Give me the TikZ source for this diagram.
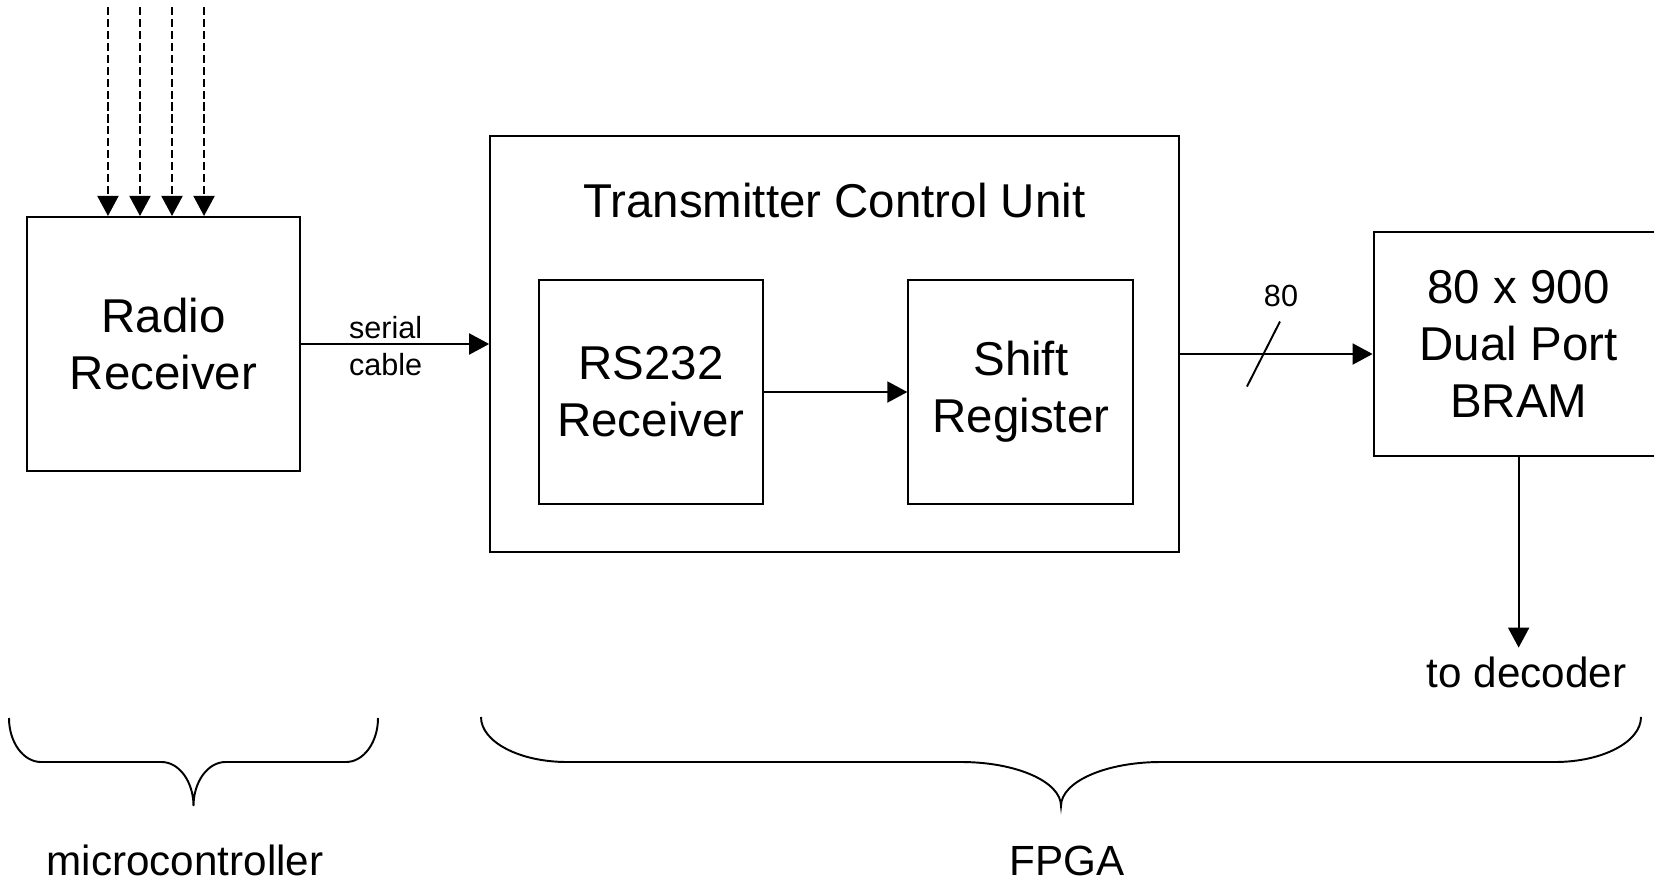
\documentclass[tikz,border=0pt]{standalone}
\usepackage{fontspec}
\setmainfont{Liberation Sans}
\usepackage{tikz}
\usetikzlibrary{positioning,arrows.meta}

\begin{document}
\begin{tikzpicture}[
    x=0.01cm, y=0.01cm,   % coordinates given in small units
    line width=0.55pt,
    >={Triangle[width=0.21cm,length=0.2cm]},
    block/.style = {draw, align=center, inner sep=0pt, font=\fontsize{13.5}{16.2}\selectfont},
    lbl/.style = {font=\fontsize{8.7}{10}\selectfont},
    note/.style = {font=\fontsize{12}{14.4}\selectfont},
    sig/.style = {->, dash pattern=on 2.3pt off 1.1pt}
  ]
    \useasboundingbox (0,0) rectangle (1654,-879);

    \node[block, minimum width=2.73cm, minimum height=2.54cm] (radio) at (163.5,-344) {Radio\\Receiver};
    \node[block, minimum width=6.88cm, minimum height=4.15cm] (tcu) [right=1.88cm of radio] {};
    \node[block, draw=none, anchor=base] (title) at ([yshift=-0.82cm]tcu.north) {Transmitter Control Unit};
    \node[block, minimum width=2.235cm, minimum height=2.23cm] (rs232) [right=0.49cm of tcu.west, yshift=-0.48cm] {RS232\\Receiver};
    \node[block, minimum width=2.25cm, minimum height=2.23cm] (shift) [right=1.435cm of rs232] {Shift\\Register};
    \node[block, minimum width=2.90cm, minimum height=2.24cm] (bram) [right=1.93cm of tcu] {80 x 900\\Dual Port\\BRAM}; % runs off the right edge

    % radio inputs
    \foreach \dx [count=\i] in {-0.555cm,-0.235cm,0.085cm,0.405cm} {
      \coordinate (rf\i) at ([xshift=\dx, yshift=2.09cm]radio.north);
      \draw[sig] (rf\i) -- (rf\i |- radio.north);
    }

    \draw[->] (radio) -- node[lbl, above, pos=0.45, inner sep=1.1pt] (serial) {serial} node[lbl, below, pos=0.45, inner sep=2.4pt] (cable) {cable} (tcu);
    \draw[->] (rs232) -- (shift);

    % 80 bit bus
    \draw[->] ([yshift=-0.1cm]tcu.east) -- coordinate[pos=0.435] (bus) ([yshift=-0.1cm]bram.west);
    \draw ([shift={(-16.5,-32.5)}]bus) -- ([shift={(16.5,32.5)}]bus);
    \node[lbl, anchor=base] (buswidth) at ([shift={(17.5,47.5)}]bus) {80};

    \node[note, anchor=base, inner sep=0.08cm] (dec) at ([xshift=0.08cm, yshift=-2.30cm]bram.south) {to decoder};
    \draw[->] (bram.south) -- (bram.south |- dec.north);

    % braces
    \draw (9,-718) arc[start angle=180, end angle=270, x radius=32, y radius=44] -- (161.5,-762)
          arc[start angle=90, end angle=0, x radius=32, y radius=44]
          arc[start angle=180, end angle=90, x radius=32, y radius=44] -- (346,-762)
          arc[start angle=270, end angle=360, x radius=32, y radius=44];
    \draw (481,-717) arc[start angle=180, end angle=270, x radius=86, y radius=45] -- (961,-762)
          arc[start angle=90, end angle=0, x radius=100, y radius=44]
          arc[start angle=180, end angle=90, x radius=100, y radius=44] -- (1555,-762)
          arc[start angle=270, end angle=360, x radius=86, y radius=45];

    \node[note, anchor=base] (mcu) at (185,-875) {microcontroller};
    \node[note, anchor=base] (fpga) at (1067,-875) {FPGA};
\end{tikzpicture}
\end{document}
